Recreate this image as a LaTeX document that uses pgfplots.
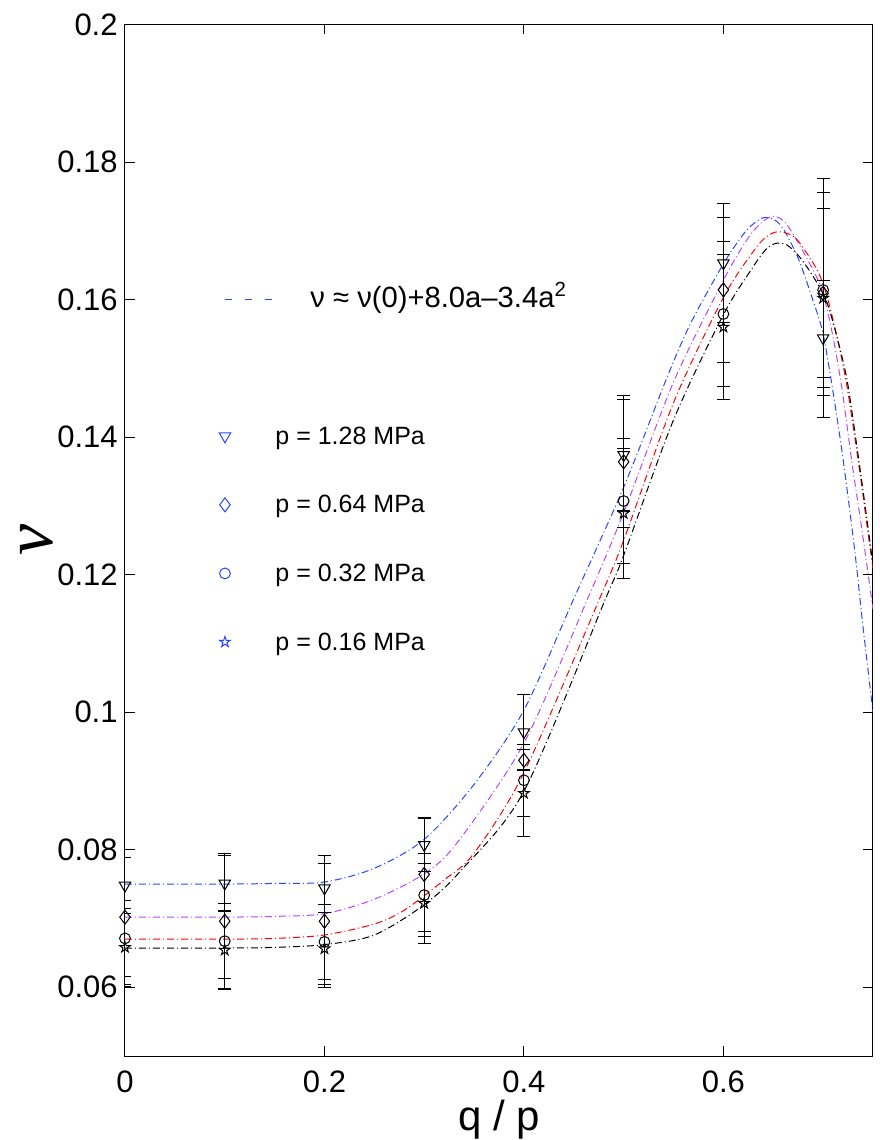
\documentclass[border=0pt]{standalone}
\usepackage{fontspec}
\setmainfont{Liberation Sans}
\newfontfamily\serifnu{Liberation Serif}
\usepackage{pgfplots}
\pgfplotsset{compat=1.18}
\usetikzlibrary{plotmarks}

\pgfdeclareplotmark{pentagram}{%
 \pgfpathmoveto{\pgfpointpolar{90}{\pgfplotmarksize}}%
 \pgfpathlineto{\pgfpointpolar{126}{0.382*\pgfplotmarksize}}%
 \pgfpathlineto{\pgfpointpolar{162}{\pgfplotmarksize}}%
 \pgfpathlineto{\pgfpointpolar{198}{0.382*\pgfplotmarksize}}%
 \pgfpathlineto{\pgfpointpolar{234}{\pgfplotmarksize}}%
 \pgfpathlineto{\pgfpointpolar{270}{0.382*\pgfplotmarksize}}%
 \pgfpathlineto{\pgfpointpolar{306}{\pgfplotmarksize}}%
 \pgfpathlineto{\pgfpointpolar{342}{0.382*\pgfplotmarksize}}%
 \pgfpathlineto{\pgfpointpolar{18}{\pgfplotmarksize}}%
 \pgfpathlineto{\pgfpointpolar{54}{0.382*\pgfplotmarksize}}%
 \pgfpathclose\pgfusepathqstroke}

\definecolor{cblue}{RGB}{40,70,255}
\definecolor{cpurp}{RGB}{180,70,255}
\definecolor{cred}{RGB}{255,0,0}
\tikzset{dd/.style={line width=0.5pt, dash pattern=on 3.5pt off 1.5pt on 0.5pt off 1.5pt}}
\pgfplotsset{
  eb/.style={error bars/.cd, y dir=both, y explicit, error mark=|,
    error mark options={mark size=3.25pt, black, line width=0.5pt, solid},
    error bar style={black, line width=0.5pt, solid}},
}

\begin{document}
\begin{tikzpicture}
\useasboundingbox (-62.5pt,-42pt) rectangle (377pt,528pt);
\begin{axis}[
  at={(0,0)}, anchor=south west,
  scale only axis, width=374pt, height=515.75pt,
  xmin=0, xmax=0.75, ymin=0.05, ymax=0.2,
  xtick={0,0.2,0.4,0.6},
  ytick={0.06,0.08,0.1,0.12,0.14,0.16,0.18,0.2},
  tick align=inside, major tick length=5pt,
  tick style={black, line width=0.5pt},
  axis line style={line width=0.5pt},
  minor tick num=0,
  /pgf/number format/assume math mode=true,
  /pgf/number format/fixed,
  /pgf/number format/precision=2,
  tick label style={font=\fontsize{15.5}{15.5}\selectfont},
  xticklabel style={anchor=base, yshift=-18pt, inner sep=0pt},
  yticklabel style={anchor=east, inner sep=0pt, xshift=-3.5pt},
  xlabel={q / p},
  xlabel style={at={(axis description cs:0.5,0)}, anchor=base, yshift=-37pt, inner sep=0pt, font=\fontsize{21}{21}\selectfont},
  ylabel={{\serifnu\itshape ν}},
  ylabel style={at={(ticklabel cs:0.5)}, anchor=south, inner sep=2pt, font=\fontsize{35}{35}\selectfont},
  legend cell align=left,
  legend style={at={(axis description cs:0.126,0.7455)}, anchor=north west, draw=none, fill=none,
    inner sep=0pt, outer sep=0pt, row sep=22.3pt, column sep=0pt,
    font=\fontsize{12.5}{12.5}\selectfont,
    nodes={inner sep=0pt, text height=10pt, text depth=2pt}},
]
% fitted curves
\addplot[forget plot, cblue, dd, smooth, tension=0.5] coordinates {
(0,0.0750)(0.1,0.0750)(0.15,0.0751)(0.2,0.0753)(0.25,0.0773)(0.3,0.0815)(0.35,0.0895)(0.4,0.1003)(0.45,0.1165)(0.5,0.1327)(0.543,0.1485)(0.567,0.1565)(0.6,0.1652)(0.62,0.1695)(0.63,0.1710)(0.64,0.1719)(0.65,0.1717)(0.66,0.1703)(0.675,0.1660)(0.69,0.1598)(0.70,0.1550)(0.71,0.1465)(0.72,0.1368)(0.732,0.1231)(0.74,0.1124)(0.75,0.1000)};
\addplot[forget plot, cpurp, dd, smooth, tension=0.5] coordinates {
(0,0.0702)(0.1,0.0702)(0.15,0.0703)(0.2,0.0707)(0.25,0.0728)(0.3,0.0765)(0.333,0.0810)(0.4,0.0955)(0.463,0.1162)(0.5,0.1290)(0.55,0.1480)(0.6,0.1628)(0.625,0.1690)(0.64,0.1714)(0.65,0.1721)(0.66,0.1715)(0.67,0.1695)(0.69,0.1643)(0.70,0.1609)(0.71,0.1545)(0.719,0.1469)(0.729,0.1362)(0.739,0.1264)(0.75,0.1150)};
\addplot[forget plot, cred, dd, smooth, tension=0.5] coordinates {
(0,0.0670)(0.1,0.0670)(0.15,0.0671)(0.2,0.0676)(0.25,0.0692)(0.28,0.0712)(0.32,0.0756)(0.35,0.0795)(0.4,0.0912)(0.475,0.1162)(0.5,0.1250)(0.55,0.1450)(0.6,0.1603)(0.63,0.1670)(0.642,0.1690)(0.652,0.1698)(0.662,0.1697)(0.674,0.1687)(0.694,0.1643)(0.704,0.1604)(0.714,0.1545)(0.724,0.1473)(0.737,0.1347)(0.745,0.1260)(0.75,0.1210)};
\addplot[forget plot, black, dd, smooth, tension=0.5] coordinates {
(0,0.0657)(0.1,0.0657)(0.15,0.0658)(0.2,0.0662)(0.25,0.0676)(0.3,0.0720)(0.337,0.0770)(0.4,0.0885)(0.481,0.1162)(0.5,0.1228)(0.55,0.1425)(0.6,0.1578)(0.63,0.1648)(0.644,0.1675)(0.654,0.1682)(0.664,0.1679)(0.674,0.1666)(0.684,0.1647)(0.694,0.1624)(0.704,0.1595)(0.714,0.1545)(0.724,0.1483)(0.734,0.1385)(0.744,0.1280)(0.75,0.1214)};
% data: p = 1.28 MPa
\addplot[forget plot, only marks, mark=triangle, mark size=3.3pt, mark options={rotate=180, black, line width=0.5pt, solid}, eb] coordinates {
(0,0.0748) +- (0,0.0041)
(0.1,0.0751) +- (0,0.0041)
(0.2,0.0744) +- (0,0.0036)
(0.3,0.0807) +- (0,0.0039)
(0.4,0.0971) +- (0,0.0055)
(0.5,0.1374) +- (0,0.0081)
(0.6,0.1653) +- (0,0.0087)
(0.7,0.1544) +- (0,0.0083)};
% p = 0.64 MPa
\addplot[forget plot, only marks, mark=diamond, mark size=3.5pt, mark options={black, line width=0.5pt, solid}, eb] coordinates {
(0,0.0702) +- (0,0.0098)
(0.1,0.0696) +- (0,0.0098)
(0.2,0.0696) +- (0,0.0096)
(0.3,0.0764) +- (0,0.0083)
(0.4,0.0930) +- (0,0.0015)
(0.5,0.1364) +- (0,0.0096)
(0.6,0.1614) +- (0,0.0105)
(0.7,0.1609) +- (0,0.0123)};
% p = 0.32 MPa
\addplot[forget plot, only marks, mark=o, mark size=2.7pt, mark options={black, line width=0.5pt, solid}, eb] coordinates {
(0,0.0671) +- (0,0.0055)
(0.1,0.0667) +- (0,0.0055)
(0.2,0.0666) +- (0,0.0055)
(0.3,0.0734) +- (0,0.0060)
(0.4,0.0901) +- (0,0.0052)
(0.5,0.1307) +- (0,0.0091)
(0.6,0.1579) +- (0,0.0106)
(0.7,0.1614) +- (0,0.0142)};
% p = 0.16 MPa
\addplot[forget plot, only marks, mark=pentagram, mark size=2.8pt, mark options={black, line width=0.5pt, solid}, eb] coordinates {
(0,0.0658) +- (0,0.0057)
(0.1,0.0654) +- (0,0.0057)
(0.2,0.0656) +- (0,0.0052)
(0.3,0.0722) +- (0,0.0058)
(0.4,0.0882) +- (0,0.0063)
(0.5,0.1289) +- (0,0.0095)
(0.6,0.1560) +- (0,0.0105)
(0.7,0.1602) +- (0,0.0174)};
% legend
\addlegendimage{legend image code/.code={\draw[cblue, line width=0.5pt, dash pattern=on 3.5pt off 6.5pt] (0pt,0pt) -- (25pt,0pt);}}
\addlegendentry{\hspace*{17.5pt}{\fontsize{14.6}{14.6}\selectfont ν ≈ ν(0)+8.0a–3.4a\textsuperscript{2}}}
\addlegendimage{legend image code/.code={}}
\addlegendentry{\phantom{p}}
\addlegendimage{legend image code/.code={\draw[cblue, line width=0.5pt, only marks, mark=triangle, mark size=3.3pt, mark options={rotate=180}] plot coordinates {(0pt,0pt)};}}
\addlegendentry{p = 1.28 MPa}
\addlegendimage{legend image code/.code={\draw[cblue, line width=0.5pt, only marks, mark=diamond, mark size=3.5pt] plot coordinates {(0pt,0pt)};}}
\addlegendentry{p = 0.64 MPa}
\addlegendimage{legend image code/.code={\draw[cblue, line width=0.5pt, only marks, mark=o, mark size=2.7pt] plot coordinates {(0pt,0pt)};}}
\addlegendentry{p = 0.32 MPa}
\addlegendimage{legend image code/.code={\draw[cblue, line width=0.5pt, only marks, mark=pentagram, mark size=2.8pt] plot coordinates {(0pt,0pt)};}}
\addlegendentry{p = 0.16 MPa}
\end{axis}
\end{tikzpicture}
\end{document}
